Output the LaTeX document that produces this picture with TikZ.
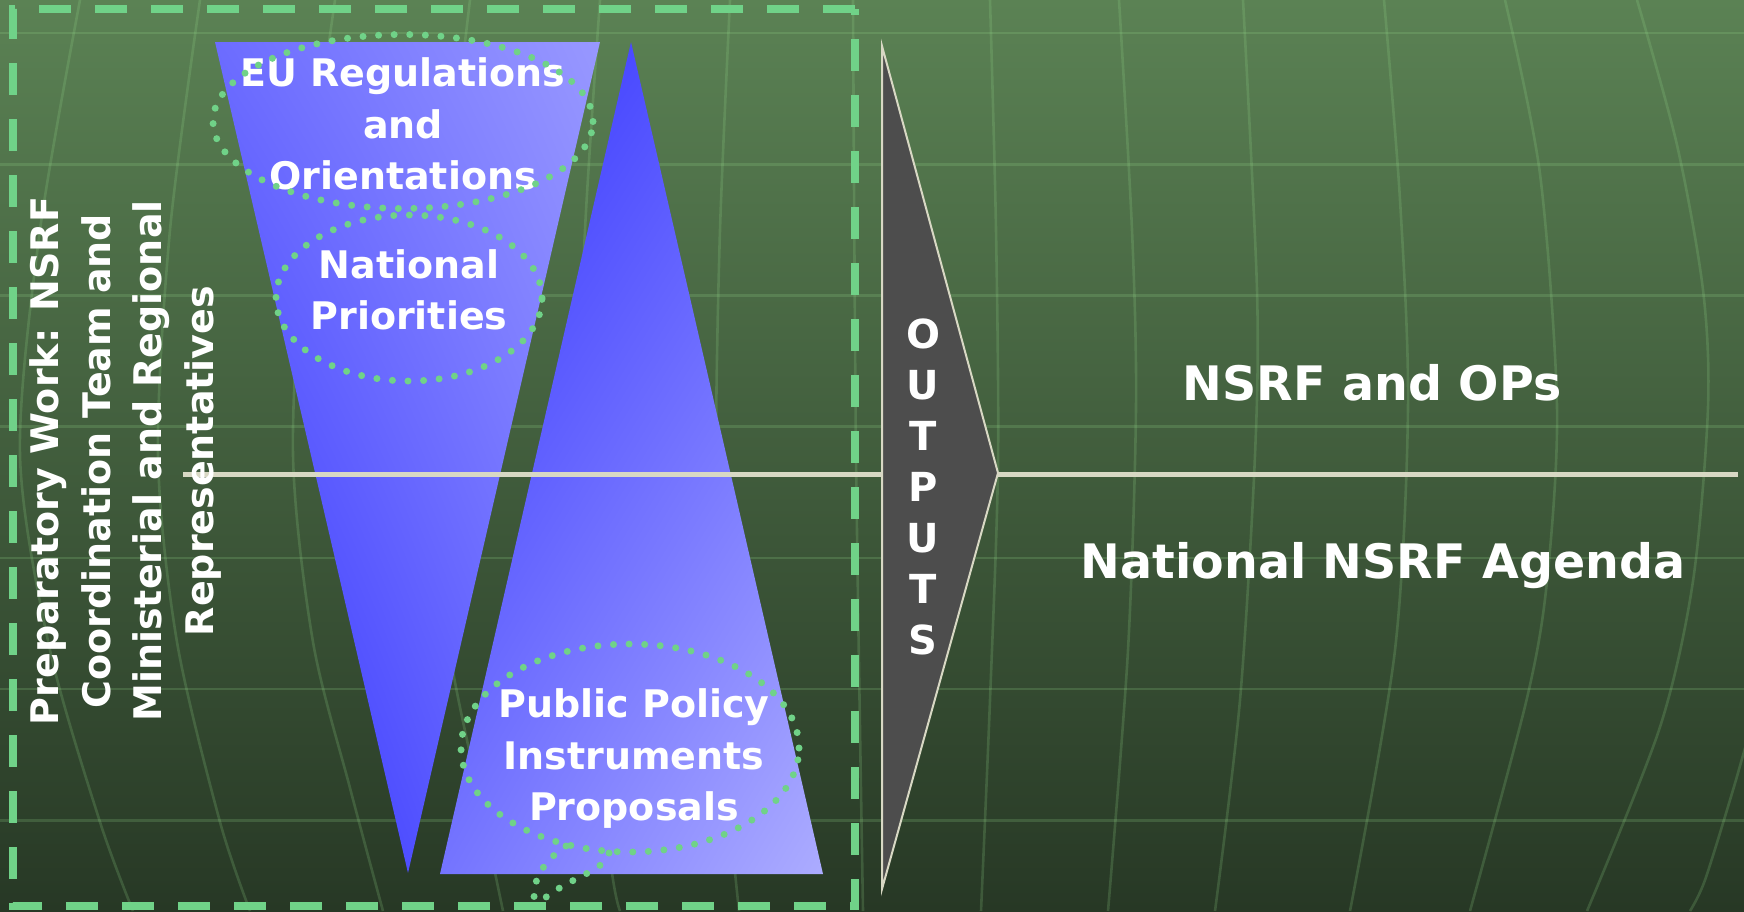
\documentclass[tikz,border=0pt]{standalone}
\usepackage{fontspec}
\setmainfont{DejaVu Sans}
\usetikzlibrary{shadings}
\definecolor{bgtop}{RGB}{91,130,84}
\definecolor{bgbot}{RGB}{39,56,37}
\definecolor{gridc}{RGB}{150,220,140}
\definecolor{dgreen}{RGB}{112,210,136}
\definecolor{beige}{RGB}{216,216,196}
\definecolor{outgray}{RGB}{77,77,77}
\definecolor{tAul}{RGB}{108,108,255}
\definecolor{tAur}{RGB}{152,152,255}
\definecolor{tAll}{RGB}{44,44,255}
\definecolor{tAlr}{RGB}{112,112,255}
\definecolor{tBul}{RGB}{48,48,255}
\definecolor{tBur}{RGB}{100,100,255}
\definecolor{tBll}{RGB}{116,116,255}
\definecolor{tBlr}{RGB}{172,172,255}
\begin{document}
\begin{tikzpicture}[x=0.5pt,y=-0.5pt,
  gridline/.style={draw=gridc, draw opacity=0.2, line width=1.3pt},
  dotted ring/.style={draw=dgreen, line width=3.5pt, line cap=round, dash pattern=on 0pt off 7.8pt},
  frame/.style={draw=dgreen, line width=3.6pt, dash pattern=on 16pt off 12pt},
  wtext/.style={text=white, font=\bfseries\fontsize{19}{25.75}\selectfont, align=center, inner sep=0pt},
  bigtext/.style={text=white, font=\bfseries\fontsize{23.75}{28}\selectfont, inner sep=0pt, anchor=base},
  outtext/.style={text=white, font=\bfseries\fontsize{20}{25.5}\selectfont, align=center, inner sep=0pt},
]
\useasboundingbox (0,0) rectangle (1744,911);
% background
\shade[top color=bgtop, bottom color=bgbot] (0,0) rectangle (1744,911);
% horizontal grid lines
\foreach \yy in {33,164.2,295.4,426.6,557.8,689,820.2}
  \draw[gridline] (0,\yy) -- (1744,\yy);
% meridians
\draw[gridline] plot[smooth] coordinates {(80,0) (40,230) (20,455) (50,650) (100,822) (133,911)};
\draw[gridline] plot[smooth] coordinates {(200,0) (170,230) (158,455) (177,642) (220,822) (250,911)};
\draw[gridline] plot[smooth] coordinates {(335,0) (305,230) (293,455) (313,642) (350,788) (383,911)};
\draw[gridline] plot[smooth] coordinates {(470,0) (445,230) (435,455) (448,640) (480,800) (503,911)};
\draw[gridline] plot[smooth] coordinates {(600,0) (585,230) (578,455) (590,700) (612,873) (620,911)};
\draw[gridline] plot[smooth] coordinates {(730,0) (720,230) (716,455) (720,700) (739,911)};
\draw[gridline] plot[smooth] coordinates {(853,0) (856,455) (863,911)};
\draw[gridline] plot[smooth] coordinates {(990,0) (996,230) (998,465) (990,700) (981,911)};
\draw[gridline] plot[smooth] coordinates {(1119,0) (1132,230) (1136,407) (1128,650) (1108,911)};
\draw[gridline] plot[smooth] coordinates {(1243,0) (1257,290) (1255,455) (1240,700) (1215,911)};
\draw[gridline] plot[smooth] coordinates {(1384,0) (1400,200) (1408,407) (1395,650) (1350,911)};
\draw[gridline] plot[smooth] coordinates {(1505,0) (1540,174) (1557,407) (1547,581) (1527,698) (1470,911)};
\draw[gridline] plot[smooth] coordinates {(1637,0) (1677,145) (1703,290) (1708,407) (1693,581) (1660,727) (1587,911)};
\draw[gridline] plot[smooth] coordinates {(1750,730) (1733,790) (1705,880) (1690,911)};
% triangles
\coordinate (t1a) at (215,42); \coordinate (t1b) at (600,42); \coordinate (t1c) at (408,873);
\coordinate (t2a) at (631,42); \coordinate (t2b) at (823,874); \coordinate (t2c) at (440,874);
\shade[upper left=tAul, upper right=tAur, lower left=tAll, lower right=tAlr]
  (t1a) -- (t1b) -- (t1c) -- cycle;
\shade[upper left=tBul, upper right=tBur, lower left=tBll, lower right=tBlr]
  (t2a) -- (t2b) -- (t2c) -- cycle;
% horizontal divider
\coordinate (lineL) at (183,474);
\coordinate (lineR) at (1738,474);
\draw[beige, line width=2.5pt] (lineL) -- (lineR);
% dashed frame
\coordinate (fTR) at (855,9); \coordinate (fTL) at (13,9);
\coordinate (fBL) at (13,906); \coordinate (fBR) at (855,906);
\draw[frame] (fTR) -- (fTL) -- (fBL) -- (fBR) -- cycle;
% outputs arrow
\coordinate (oTop) at (882,46); \coordinate (oTip) at (998,473); \coordinate (oBot) at (882,889);
\draw[fill=outgray, draw=beige, line width=1pt, line join=miter] (oTop) -- (oTip) -- (oBot) -- cycle;
% texts
\node[wtext, rotate=90] (prep) at (125.5,461) {Preparatory Work: NSRF\\Coordination Team and\\Ministerial and Regional\\Representatives};
\node[wtext] (eu) at (403,124.2) {EU Regulations\\and\\Orientations};
\node[wtext] (natpri) at (409,289.6) {National\\Priorities};
\node[wtext] (ppi) at (634,758.6) {Public Policy\\Instruments\\Proposals};
\node[outtext] (outputs) at (923,486.5) {O\\U\\T\\P\\U\\T\\S};
\node[bigtext] (nsrf) at (1372,400) {NSRF and OPs};
\node[bigtext] (agenda) at (1383,578) {National NSRF Agenda};
% dotted rings
\draw[dotted ring] (403,121.5) ellipse [x radius=95pt, y radius=43.5pt];
\draw[dotted ring] (409,298) ellipse [x radius=66.5pt, y radius=41.5pt];
\draw[dotted ring] (630,748) ellipse [x radius=84.5pt, y radius=52pt];
\coordinate (tailTip) at (535,905);
\draw[dotted ring] (566,846) .. controls (545,860) and (530,880) .. (tailTip);
\draw[dotted ring] (609,853) .. controls (605,872) and (565,878) .. (538,904);
\end{tikzpicture}
\end{document}
